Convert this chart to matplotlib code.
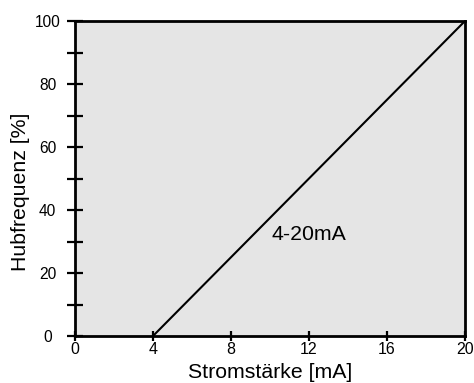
import matplotlib
matplotlib.use("Agg")
import matplotlib.pyplot as plt
from matplotlib.ticker import MultipleLocator

plt.rcParams['font.family'] = ['Liberation Sans', 'DejaVu Sans']

current_ma = [4, 20]
stroke_pct = [0, 100]
x_ticks = [0, 4, 8, 12, 16, 20]
y_ticks = [0, 20, 40, 60, 80, 100]

fig = plt.figure(figsize=(4.74, 3.83), dpi=100)
ax = fig.add_axes([75 / 474, 1 - 336 / 383, 390 / 474, 315 / 383])
ax.set_facecolor('#e5e5e5')

ax.plot(current_ma, stroke_pct, color='black', lw=1.5, solid_capstyle='butt')
ax.text(10.1, 32.1, '4-20mA', fontsize=15.3, ha='left', va='center')

ax.set_xlim(0, 20)
ax.set_ylim(0, 100)
ax.set_xticks(x_ticks)
ax.set_yticks(y_ticks)
ax.yaxis.set_minor_locator(MultipleLocator(10))

for s in ax.spines.values():
    s.set_linewidth(2)
ax.tick_params(axis='y', which='both', direction='inout', length=11.5, width=1.6,
               labelsize=11.2, color='black')
ax.tick_params(axis='y', which='major', pad=14)
for lbl in ax.get_yticklabels():
    lbl.set_horizontalalignment('center')
ax.tick_params(axis='x', which='major', direction='inout', length=7.5, width=1.6,
               labelsize=11.5, pad=0.5, color='black')

ax.set_xlabel('Stromstärke [mA]', fontsize=15.3)
ax.set_ylabel('Hubfrequenz [%]', fontsize=15.3)
ax.xaxis.set_label_coords(0.5, (336 - 372) / 315)
ax.xaxis.label.set_verticalalignment('center')
ax.yaxis.set_label_coords((21 - 75) / 390, (336 - 192) / 315)
ax.yaxis.label.set_verticalalignment('center')

fig.savefig('out.png', dpi=100)
